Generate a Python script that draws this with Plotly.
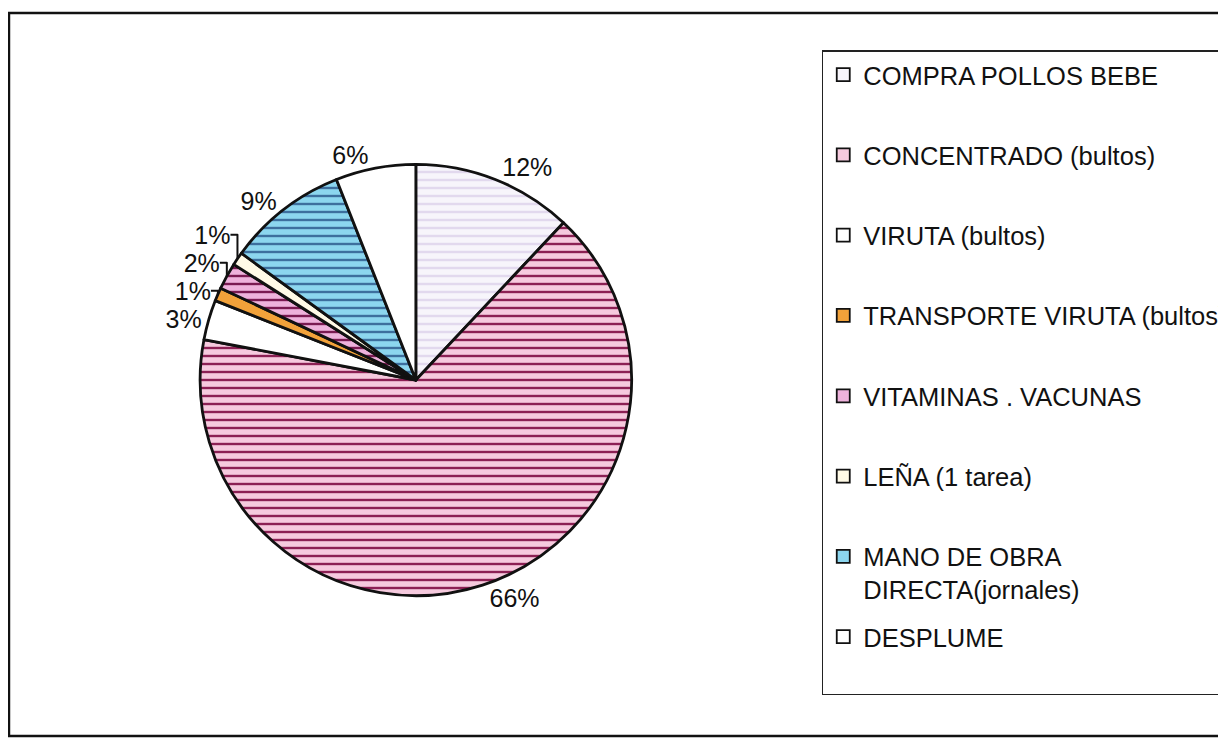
import plotly.graph_objects as go

categories = [
    "COMPRA POLLOS BEBE",
    "CONCENTRADO (bultos)",
    "VIRUTA (bultos)",
    "TRANSPORTE VIRUTA (bultos)",
    "VITAMINAS . VACUNAS",
    "LEÑA (1 tarea)",
    "MANO DE OBRA<br>DIRECTA(jornales)",
    "DESPLUME",
]
percent_values = [12, 66, 3, 1, 2, 1, 9, 6]

bg_colors = ["#f7f5fb", "#f6cade", "#ffffff", "#f2a23a", "#eeb2dc", "#fffae6", "#8cd6ef", "#ffffff"]
fg_colors = ["#e2d9ee", "#8c2054", "#ffffff", "#f2a23a", "#7a1a52", "#fffae6", "#3d6f9e", "#ffffff"]
pattern_shapes = ["-", "-", "", "", "-", "", "-", ""]

W, H = 1226, 743
OFF = 8  # page body margin


def px(x):
    return (x - OFF) / W


def py(y):
    return 1 - (y - OFF) / H


CX, CY, R = 424, 380, 220

fig = go.Figure()
fig.add_trace(
    go.Pie(
        labels=[c.replace("<br>", " ") for c in categories],
        values=percent_values,
        sort=False,
        direction="clockwise",
        rotation=0,
        textinfo="percent",
        textposition="outside",
        texttemplate="%{percent:.0%}",
        outsidetextfont=dict(family="Liberation Sans, Arial", size=25, color="#111111"),
        marker=dict(
            colors=bg_colors,
            line=dict(color="#111111", width=2.8),
            pattern=dict(
                shape=pattern_shapes,
                fgcolor=fg_colors,
                bgcolor=bg_colors,
                size=8,
                solidity=0.3,
            ),
        ),
        domain=dict(x=[px(CX - R), px(CX + R)], y=[py(CY + R), py(CY - R)]),
        showlegend=False,
    )
)

# legend entries (one per slice), padded to two lines for the spacing
for name, col in zip(categories, bg_colors):
    label = name if "<br>" in name else name + "<br> "
    fig.add_trace(
        go.Scatter(
            x=[None],
            y=[None],
            mode="markers",
            name=label,
            legendgroup=name,
            marker=dict(symbol="square", size=13, color=col, line=dict(color="#111111", width=1.8)),
            hoverinfo="skip",
        )
    )

fig.update_layout(
    width=W,
    height=H,
    margin=dict(l=0, r=0, t=0, b=0),
    paper_bgcolor="white",
    plot_bgcolor="white",
    font=dict(family="Liberation Sans, Arial", color="#111111"),
    xaxis=dict(visible=False),
    yaxis=dict(visible=False),
    legend=dict(
        x=px(838),
        y=py(50),
        xanchor="left",
        yanchor="top",
        valign="top",
        tracegroupgap=11,
        entrywidth=340,
        entrywidthmode="pixels",
        bordercolor="#222222",
        borderwidth=1.5,
        font=dict(family="Liberation Sans, Arial", size=25.5, color="#111111"),
        itemclick=False,
        itemdoubleclick=False,
    ),
    shapes=[
        dict(
            type="rect",
            xref="paper",
            yref="paper",
            x0=px(9),
            x1=1.05,
            y0=py(736),
            y1=py(13),
            line=dict(color="#111111", width=2.5),
            fillcolor="rgba(0,0,0,0)",
        )
    ],
)

fig.write_html("out.html")
